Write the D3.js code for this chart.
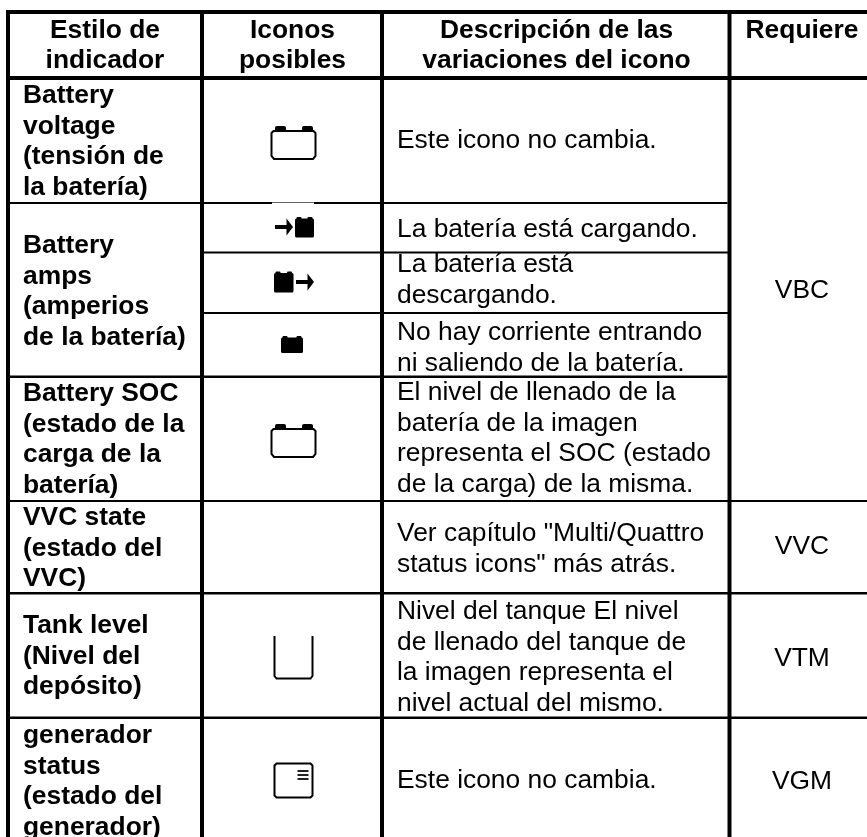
<!DOCTYPE html>
<html>
<head>
<meta charset="utf-8">
<script src="https://cdn.jsdelivr.net/npm/d3@7"></script>
<style>
html, body { margin: 0; padding: 0; background: #fff; overflow: hidden; }
svg { display: block; }
text { font-family: "Liberation Sans", Arial, sans-serif; fill: #000; filter: url(#soft); }
</style>
</head>
<body>
<div id="chart"></div>
<script>
// Table text
var headers = [
    ["Estilo de", "indicador"],
    ["Iconos", "posibles"],
    ["Descripción de las", "variaciones del icono"],
    ["Requiere"]
];
var styleNames = [
    ["Battery", "voltage", "(tensión de", "la batería)"],
    ["Battery", "amps", "(amperios", "de la batería)"],
    ["Battery SOC", "(estado de la", "carga de la", "batería)"],
    ["VVC state", "(estado del", "VVC)"],
    ["Tank level", "(Nivel del", "depósito)"],
    ["generador", "status", "(estado del", "generador)"]
];
var descriptions = [
    ["Este icono no cambia."],
    ["La batería está cargando."],
    ["La batería está", "descargando."],
    ["No hay corriente entrando", "ni saliendo de la batería."],
    ["El nivel de llenado de la", "batería de la imagen", "representa el SOC (estado", "de la carga) de la misma."],
    ["Ver capítulo \"Multi/Quattro", "status icons\" más atrás."],
    ["Nivel del tanque El nivel", "de llenado del tanque de", "la imagen representa el", "nivel actual del mismo."],
    ["Este icono no cambia."]
];
var requires = ["VBC", "VVC", "VTM", "VGM"];
var icons = ["battery", "charge", "discharge", "solid", "battery", "", "tank", "generator"];

// Layout
var width = 867, height = 837,
    font_size = 26.4,
    line_step = 30.7,
    col_lines = [8, 202, 382, 729.5],
    name_x = 23,
    desc_x = 397,
    req_x = 802,
    icon_x = 293.5;

var header_lines = [[10, 14], [76, 80]];
var row_lines = [[202, 204], [251.5, 253.5], [312, 314], [375.5, 378], [500, 502], [592, 594.5], [716.5, 719]];
var name_y = [103, 253, 401, 525, 633, 743];
var desc_y = [148, 237, 272, 340, 400, 541, 619, 788];
var req_y = [298, 554, 666, 789];
var icon_y = [143, 227, 282, 345, 441, 0, 658, 781];

var svg = d3.select("#chart").append("svg")
    .attr("width", width)
    .attr("height", height);

svg.append("defs").append("filter")
    .attr("id", "soft")
    .append("feGaussianBlur")
    .attr("stdDeviation", 0.3);

// grid lines
svg.selectAll("rect.hline")
    .data(header_lines.concat(row_lines))
    .enter().append("rect")
    .attr("class", "hline")
    .attr("x", function(d, i) {
        // the amps row lines stop at the first column, the name cell is merged
        return (i == 3 || i == 4) ? col_lines[1] : col_lines[0] - 2;
    })
    .attr("y", function(d) { return d[0]; })
    .attr("width", function(d, i) {
        if (i == 3 || i == 4) return col_lines[3] - col_lines[1];
        if (i == 2 || i == 5) return col_lines[3] - col_lines[0];
        return width - col_lines[0] + 2;
    })
    .attr("height", function(d) { return d[1] - d[0]; })
    .attr("fill", "#000");

svg.selectAll("rect.vline")
    .data(col_lines)
    .enter().append("rect")
    .attr("class", "vline")
    .attr("x", function(d, i) { return d - 2; })
    .attr("y", 10)
    .attr("width", 4)
    .attr("height", height - 10)
    .attr("fill", "#000");

// the charge icon picture bites into the row line above it
svg.append("rect")
    .attr("x", 272).attr("y", 202.6)
    .attr("width", 42).attr("height", 2)
    .attr("fill", "#fff");

// Writes a multi line text block
function block(lines, x, y, anchor, weight) {
    var t = svg.append("text")
        .attr("text-anchor", anchor)
        .attr("font-size", font_size)
        .attr("font-weight", weight);
    t.selectAll("tspan")
        .data(lines)
        .enter().append("tspan")
        .attr("x", x)
        .attr("y", function(d, i) { return y + i * line_step; })
        .text(function(d) { return d; });
}

var header_x = [105, 292.5, 556.5, req_x];
headers.forEach(function(h, i) { block(h, header_x[i], 37.5, "middle", "bold"); });
styleNames.forEach(function(n, i) { block(n, name_x, name_y[i], "start", "bold"); });
descriptions.forEach(function(d, i) { block(d, desc_x, desc_y[i], "start", "normal"); });
requires.forEach(function(r, i) { block([r], req_x, req_y[i], "middle", "normal"); });

// Icons, in coordinates local to their centre
var body_solid = function(g, x0, x1, y0, y1) {
    g.append("rect").attr("x", x0).attr("y", y0 + 1.5)
        .attr("width", x1 - x0).attr("height", y1 - y0 - 1.5)
        .attr("rx", 1.5).attr("fill", "#000");
    g.append("rect").attr("x", x0 + 1.5).attr("y", y0)
        .attr("width", 5).attr("height", 3).attr("rx", 1).attr("fill", "#000");
    g.append("rect").attr("x", x1 - 6.5).attr("y", y0)
        .attr("width", 5).attr("height", 3).attr("rx", 1).attr("fill", "#000");
};
var arrow = function(g, x0, x1) {
    g.append("path")
        .attr("d", "M" + x0 + ",0H" + (x1 - 2))
        .attr("fill", "none")
        .attr("stroke", "#000")
        .attr("stroke-width", 4);
    g.append("path")
        .attr("d", "M" + (x1 - 6.5) + ",-8.5L" + x1 + ",0L" + (x1 - 6.5) + ",8.5Z")
        .attr("fill", "#000");
};
var drawIcon = {
    battery: function(g) {
        g.append("path")
            .attr("d", "M-20,-12H20L22,-10V13L19.5,16H-19.5L-22,13V-10Z")
            .attr("fill", "none").attr("stroke", "#000").attr("stroke-width", 2);
        g.append("rect").attr("x", -18.5).attr("y", -17).attr("width", 11).attr("height", 5.5).attr("rx", 2).attr("fill", "#000");
        g.append("rect").attr("x", 8.5).attr("y", -17).attr("width", 11).attr("height", 5.5).attr("rx", 2).attr("fill", "#000");
    },
    charge: function(g) {
        arrow(g, -18.5, -0.5);
        body_solid(g, 1.5, 20.5, -10, 10.5);
    },
    discharge: function(g) {
        body_solid(g, -19.5, 0, -10.5, 10.5);
        arrow(g, 2.5, 20.5);
    },
    solid: function(g) {
        body_solid(g, -12.5, 9.5, -9, 8);
    },
    tank: function(g) {
        g.append("path")
            .attr("d", "M-19,-22V18L-17,20.5H17L19,18V-22")
            .attr("fill", "none").attr("stroke", "#000").attr("stroke-width", 2);
    },
    generator: function(g) {
        g.append("path")
            .attr("d", "M-17,-17.5H17L19,-15.5V14.5L17,16.5H-17L-19,14.5V-15.5Z")
            .attr("fill", "none").attr("stroke", "#000").attr("stroke-width", 2);
        g.append("path")
            .attr("d", "M4,-10H15M4,-6H15M4,-2H15")
            .attr("fill", "none").attr("stroke", "#222").attr("stroke-width", 2);
    }
};

icons.forEach(function(name, i) {
    if (!name) return;
    var g = svg.append("g")
        .attr("transform", "translate(" + icon_x + "," + icon_y[i] + ")");
    drawIcon[name](g);
});
</script>
</body>
</html>
